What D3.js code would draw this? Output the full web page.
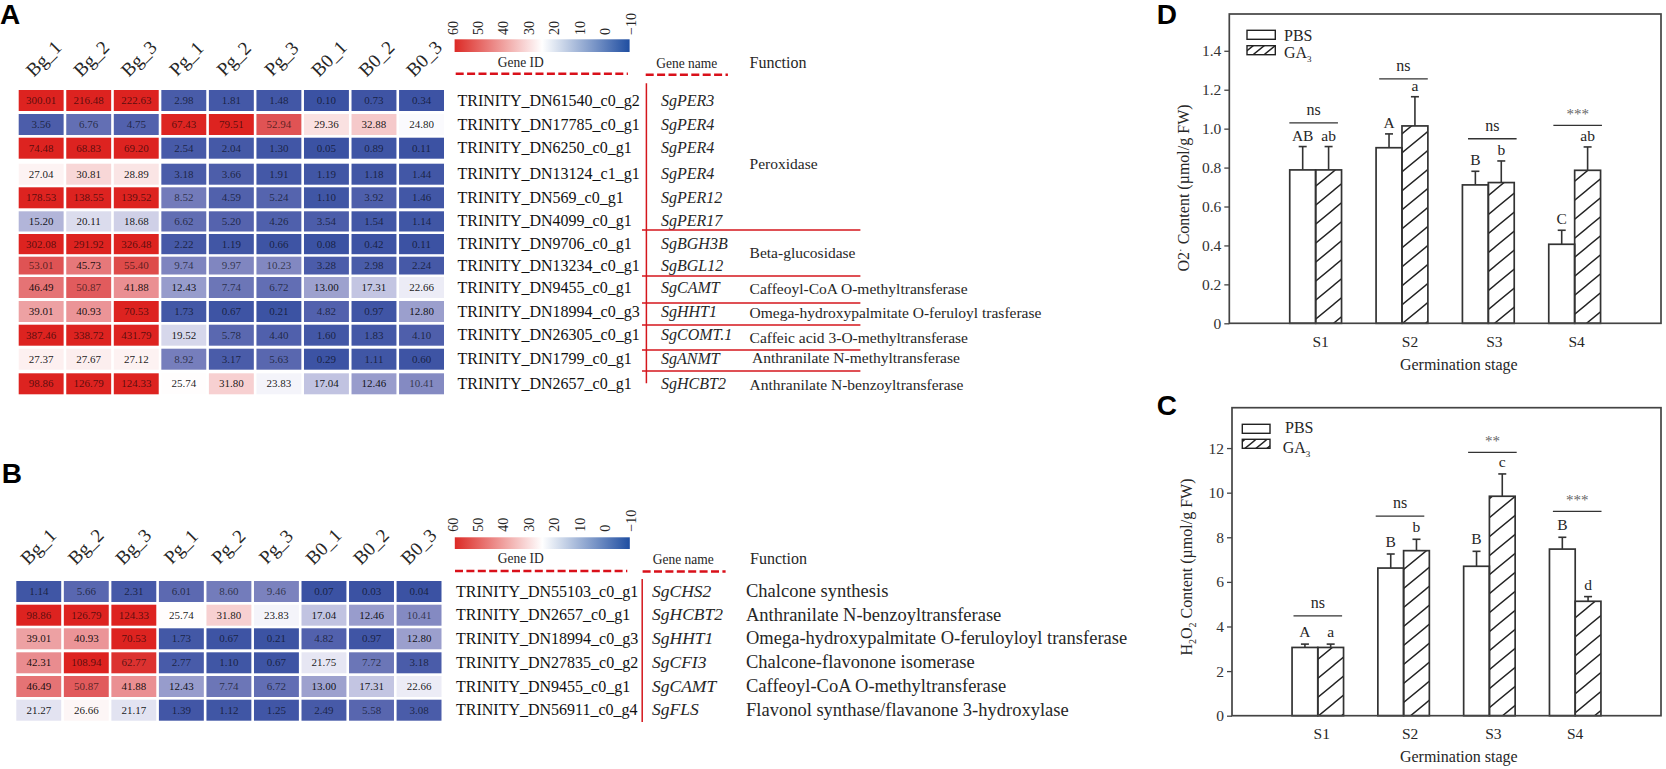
<!DOCTYPE html>
<html>
<head>
<meta charset="utf-8">
<script src="https://cdn.jsdelivr.net/npm/d3@7"></script>
<style>
	html, body { margin: 0; padding: 0; background: #fff; }
	svg { display: block; }
	text { font-family: "Liberation Serif", serif; fill: #262626; }
	.letter { font-family: "Liberation Sans", sans-serif; font-weight: bold; font-size: 28px; fill: #000; }
</style>
</head>
<body>
<div id="my_dataviz"></div>
<script>
// heatmap data
const columns = ["Bg_1", "Bg_2", "Bg_3", "Pg_1", "Pg_2", "Pg_3", "B0_1", "B0_2", "B0_3"];

const geneIdsA = ["TRINITY_DN61540_c0_g2", "TRINITY_DN17785_c0_g1", "TRINITY_DN6250_c0_g1", "TRINITY_DN13124_c1_g1", "TRINITY_DN569_c0_g1", "TRINITY_DN4099_c0_g1", "TRINITY_DN9706_c0_g1", "TRINITY_DN13234_c0_g1", "TRINITY_DN9455_c0_g1", "TRINITY_DN18994_c0_g3", "TRINITY_DN26305_c0_g1", "TRINITY_DN1799_c0_g1", "TRINITY_DN2657_c0_g1"];
const geneNamesA = ["SgPER3", "SgPER4", "SgPER4", "SgPER4", "SgPER12", "SgPER17", "SgBGH3B", "SgBGL12", "SgCAMT", "SgHHT1", "SgCOMT.1", "SgANMT", "SgHCBT2"];
const functionsA = ["Peroxidase", "Beta-glucosidase", "Caffeoyl-CoA O-methyltransferase", "Omega-hydroxypalmitate O-feruloyl trasferase", "Caffeic acid 3-O-methyltransferase", "Anthranilate N-methyltransferase", "Anthranilate N-benzoyltransferase"];
const valuesA = [
	[300.01, 216.48, 222.63, 2.98, 1.81, 1.48, 0.10, 0.73, 0.34],
	[3.56, 6.76, 4.75, 67.43, 79.51, 52.94, 29.36, 32.88, 24.80],
	[74.48, 68.83, 69.20, 2.54, 2.04, 1.30, 0.05, 0.89, 0.11],
	[27.04, 30.81, 28.89, 3.18, 3.66, 1.91, 1.19, 1.18, 1.44],
	[178.53, 138.55, 139.52, 8.52, 4.59, 5.24, 1.10, 3.92, 1.46],
	[15.20, 20.11, 18.68, 6.62, 5.20, 4.26, 3.54, 1.54, 1.14],
	[302.08, 291.92, 326.48, 2.22, 1.19, 0.66, 0.08, 0.42, 0.11],
	[53.01, 45.73, 55.40, 9.74, 9.97, 10.23, 3.28, 2.98, 2.24],
	[46.49, 50.87, 41.88, 12.43, 7.74, 6.72, 13.00, 17.31, 22.66],
	[39.01, 40.93, 70.53, 1.73, 0.67, 0.21, 4.82, 0.97, 12.80],
	[387.46, 338.72, 431.79, 19.52, 5.78, 4.40, 1.60, 1.83, 4.10],
	[27.37, 27.67, 27.12, 8.92, 3.17, 5.63, 0.29, 1.11, 0.60],
	[98.86, 126.79, 124.33, 25.74, 31.80, 23.83, 17.04, 12.46, 10.41]
];

const geneIdsB = ["TRINITY_DN55103_c0_g1", "TRINITY_DN2657_c0_g1", "TRINITY_DN18994_c0_g3", "TRINITY_DN27835_c0_g2", "TRINITY_DN9455_c0_g1", "TRINITY_DN56911_c0_g4"];
const geneNamesB = ["SgCHS2", "SgHCBT2", "SgHHT1", "SgCFI3", "SgCAMT", "SgFLS"];
const functionsB = ["Chalcone synthesis", "Anthranilate N-benzoyltransferase", "Omega-hydroxypalmitate O-feruloyloyl transferase", "Chalcone-flavonone isomerase", "Caffeoyl-CoA O-methyltransferase", "Flavonol synthase/flavanone 3-hydroxylase"];
const valuesB = [
	[1.14, 5.66, 2.31, 6.01, 8.60, 9.46, 0.07, 0.03, 0.04],
	[98.86, 126.79, 124.33, 25.74, 31.80, 23.83, 17.04, 12.46, 10.41],
	[39.01, 40.93, 70.53, 1.73, 0.67, 0.21, 4.82, 0.97, 12.80],
	[42.31, 108.94, 62.77, 2.77, 1.10, 0.67, 21.75, 7.72, 3.18],
	[46.49, 50.87, 41.88, 12.43, 7.74, 6.72, 13.00, 17.31, 22.66],
	[21.27, 26.66, 21.17, 1.39, 1.12, 1.25, 2.49, 5.58, 3.08]
];

const legendTicks = [60, 50, 40, 30, 20, 10, 0, -10];

// bar data
const stages = ["S1", "S2", "S3", "S4"];

const pbsD = [0.788, 0.902, 0.711, 0.406];
const gaD = [0.788, 1.014, 0.723, 0.786];
const pbsErrD = [0.12, 0.071, 0.07, 0.072];
const gaErrD = [0.12, 0.15, 0.111, 0.12];
const pbsLettersD = ["AB", "A", "B", "C"];
const gaLettersD = ["ab", "a", "b", "ab"];
const sigD = ["ns", "ns", "ns", "***"];
const sigLevelD = [1.03, 1.256, 0.948, 1.017];
const ticksD = [0, 0.2, 0.4, 0.6, 0.8, 1.0, 1.2, 1.4];

const pbsC = [3.06, 6.62, 6.70, 7.47];
const gaC = [3.06, 7.40, 9.84, 5.13];
const pbsErrC = [0.15, 0.63, 0.67, 0.53];
const gaErrC = [0.15, 0.51, 1.0, 0.21];
const pbsLettersC = ["A", "B", "B", "B"];
const gaLettersC = ["a", "b", "c", "d"];
const sigC = ["ns", "ns", "**", "***"];
const sigLevelC = [4.48, 8.95, 11.81, 9.16];
const ticksC = [0, 2, 4, 6, 8, 10, 12];

const svg = d3.select("#my_dataviz").append("svg")
	.attr("width", 1666)
	.attr("height", 769);

const defs = svg.append("defs");

// heat colours, saturate at both ends like the original
const heat = d3.scaleLinear()
	.domain([0, 5, 10, 15, 20, 25.5, 30, 40, 50, 60, 68])
	.range(["#3b52a3", "#5362ad", "#8086c0", "#b0b3d8", "#dadbed", "#ffffff", "#f9dcdc", "#ec9a9d", "#e15e60", "#dc3a38", "#dd2320"])
	.clamp(true);

const legendColor = d3.scaleLinear()
	.domain([60, 25, -10])
	.range(["#dc2a26", "#ffffff", "#1f4ea1"]);

function addHatch(id, w, h) {
	const p = defs.append("pattern")
		.attr("id", id)
		.attr("patternUnits", "userSpaceOnUse")
		.attr("width", w)
		.attr("height", h);
	p.append("path")
		.attr("d", `M0,${h}L${w},0M${-w},${h}L${w},${-h}M0,${2 * h}L${2 * w},0`)
		.attr("stroke", "#222")
		.attr("stroke-width", 1.4);
}
addHatch("hatch", 23, 19);
addHatch("hatchLegend", 11, 9);

function drawHeatmap(cfg) {
	const g = svg.append("g");

	const x = d3.scaleBand()
		.domain(columns)
		.range(cfg.xRange)
		.paddingInner(0.055);

	const y = d3.scaleLinear()
		.domain(d3.range(cfg.rowTops.length))
		.range(cfg.rowTops);

	const rowH = i => i < cfg.rowTops.length - 1
		? Math.min(cfg.cellH, cfg.rowTops[i + 1] - cfg.rowTops[i] - 2.5)
		: cfg.cellH;
	const rowMid = i => y(i) + rowH(i) / 2;

	// column labels
	g.selectAll(".col").data(columns).join("text")
		.attr("text-anchor", "middle")
		.attr("dominant-baseline", "middle")
		.attr("font-size", 19)
		.attr("transform", d => `translate(${x(d) + x.bandwidth() / 2 + cfg.colLabelDx},${cfg.colLabelY}) rotate(-45)`)
		.text(d => d);

	// cells
	const rows = g.selectAll(".row").data(cfg.values).join("g");
	rows.selectAll("rect").data((d, i) => d.map((v, j) => ({v: v, i: i, j: j}))).join("rect")
		.attr("x", d => x(columns[d.j]))
		.attr("y", d => y(d.i))
		.attr("width", x.bandwidth())
		.attr("height", d => rowH(d.i))
		.attr("fill", d => heat(d.v));
	rows.selectAll("text").data((d, i) => d.map((v, j) => ({v: v, i: i, j: j}))).join("text")
		.attr("x", d => x(columns[d.j]) + x.bandwidth() / 2)
		.attr("y", d => rowMid(d.i) + 3.6)
		.attr("text-anchor", "middle")
		.attr("font-size", 11)
		.style("fill", "#000")
		.attr("fill-opacity", d => d3.lab(heat(d.v)).l < 62 ? 0.62 : 0.9)
		.text(d => d.v.toFixed(2));

	// colour legend
	const gradId = "grad" + cfg.name;
	const grad = defs.append("linearGradient").attr("id", gradId);
	d3.range(0, 1.01, 0.1).forEach(t => {
		grad.append("stop")
			.attr("offset", t)
			.attr("stop-color", legendColor(60 - 70 * t));
	});
	g.append("rect")
		.attr("x", cfg.barX[0])
		.attr("y", cfg.barY[0])
		.attr("width", cfg.barX[1] - cfg.barX[0])
		.attr("height", cfg.barY[1] - cfg.barY[0])
		.attr("fill", `url(#${gradId})`);

	const legendX = d3.scaleLinear().domain([60, -10]).range(cfg.tickX);
	g.selectAll(".tick").data(legendTicks).join("text")
		.attr("font-size", 14)
		.attr("transform", d => `translate(${legendX(d) + 4.5},${cfg.tickLabelY}) rotate(-90)`)
		.text(d => d < 0 ? "\u2212" + Math.abs(d) : d);

	// headers, the two small ones are squeezed sideways in the original
	g.append("text")
		.attr("transform", `translate(${cfg.geneIdHead[0]},${cfg.geneIdHead[1]}) scale(0.87,1)`)
		.attr("text-anchor", "middle").attr("font-size", 15.5).text("Gene ID");
	g.append("text")
		.attr("transform", `translate(${cfg.geneNameHead[0]},${cfg.geneNameHead[1]}) scale(0.87,1)`)
		.attr("text-anchor", "middle").attr("font-size", 15.5).text("Gene name");
	g.append("text").attr("x", cfg.funcHead[0]).attr("y", cfg.funcHead[1])
		.attr("font-size", 16).text("Function");

	cfg.dashes.forEach(d => {
		g.append("line")
			.attr("x1", d[0]).attr("x2", d[1])
			.attr("y1", d[2]).attr("y2", d[2])
			.attr("stroke", "#d9101a")
			.attr("stroke-width", 2.6)
			.attr("stroke-dasharray", "8,3.4");
	});

	// gene ids and names
	g.selectAll(".gid").data(cfg.geneIds).join("text")
		.attr("x", cfg.geneIdX)
		.attr("y", (d, i) => rowMid(i) + 5)
		.attr("font-size", 16)
		.style("fill", "#111")
		.text(d => d);
	g.selectAll(".gname").data(cfg.geneNames).join("text")
		.attr("x", cfg.geneNameX)
		.attr("y", (d, i) => rowMid(i) + 5)
		.attr("font-size", cfg.geneNameSize)
		.attr("font-style", "italic")
		.text(d => d);

	// functions
	g.selectAll(".func").data(cfg.functions).join("text")
		.attr("x", (d, i) => cfg.funcX[i] || cfg.funcX[0])
		.attr("y", (d, i) => cfg.funcY[i])
		.attr("font-size", cfg.funcSize)
		.text(d => d);

	// red separators
	g.append("line")
		.attr("x1", cfg.vline[0]).attr("x2", cfg.vline[0])
		.attr("y1", cfg.vline[1]).attr("y2", cfg.vline[2])
		.attr("stroke", "#d4161c").attr("stroke-width", 1.5);
	g.selectAll(".sep").data(cfg.seps).join("line")
		.attr("x1", cfg.sepX[0]).attr("x2", cfg.sepX[1])
		.attr("y1", d => d).attr("y2", d => d)
		.attr("stroke", "#d4161c").attr("stroke-width", 1.5);
}

function drawBars(cfg) {
	const g = svg.append("g");
	const [left, right, top, bottom] = cfg.frame;

	const x = d3.scalePoint().domain(stages).range([left, right]).padding(1);
	const barW = x.step() * 0.3;
	const y = d3.scaleLinear().domain([0, cfg.yMax]).range([bottom, top]);

	// bars, error bars and letters per series
	const series = [
		{values: cfg.pbs, err: cfg.pbsErr, letters: cfg.pbsLetters, dx: -barW, fill: "#fff"},
		{values: cfg.ga, err: cfg.gaErr, letters: cfg.gaLetters, dx: 0, fill: "url(#hatch)"}
	];
	series.forEach(s => {
		const cx = (d, i) => x(stages[i]) + s.dx + barW / 2;

		g.selectAll(null).data(s.values).join("line")
			.attr("x1", cx).attr("x2", cx)
			.attr("y1", d => y(d))
			.attr("y2", (d, i) => y(d + s.err[i]))
			.attr("stroke", "#333").attr("stroke-width", 1.6);
		g.selectAll(null).data(s.values).join("line")
			.attr("x1", (d, i) => cx(d, i) - 4).attr("x2", (d, i) => cx(d, i) + 4)
			.attr("y1", (d, i) => y(d + s.err[i]))
			.attr("y2", (d, i) => y(d + s.err[i]))
			.attr("stroke", "#333").attr("stroke-width", 1.6);

		g.selectAll(null).data(s.values).join("rect")
			.attr("x", (d, i) => x(stages[i]) + s.dx)
			.attr("y", d => y(d))
			.attr("width", barW)
			.attr("height", d => y(0) - y(d))
			.attr("fill", s.fill)
			.attr("stroke", "#333")
			.attr("stroke-width", 1.7);

		g.selectAll(null).data(s.letters).join("text")
			.attr("x", (d, i) => cx(d, i))
			.attr("y", (d, i) => y(s.values[i] + s.err[i]) - cfg.letterGap)
			.attr("text-anchor", "middle")
			.attr("font-size", 15.5)
			.text(d => d);
	});

	// significance bars
	g.selectAll(null).data(cfg.sig).join("line")
		.attr("x1", (d, i) => x(stages[i]) + cfg.sigDx[i] - 24.3)
		.attr("x2", (d, i) => x(stages[i]) + cfg.sigDx[i] + 24.3)
		.attr("y1", (d, i) => y(cfg.sigLevel[i]))
		.attr("y2", (d, i) => y(cfg.sigLevel[i]))
		.attr("stroke", "#333").attr("stroke-width", 1.3);
	g.selectAll(null).data(cfg.sig).join("text")
		.attr("x", (d, i) => x(stages[i]) + cfg.sigDx[i])
		.attr("y", (d, i) => y(cfg.sigLevel[i]) - (d === "ns" ? 7.7 : 6.5))
		.attr("text-anchor", "middle")
		.attr("font-size", d => d === "ns" ? 16 : 15)
		.style("fill", d => d === "ns" ? "#262626" : "#666")
		.text(d => d);

	// frame and axes
	g.append("rect")
		.attr("x", left).attr("y", top)
		.attr("width", right - left).attr("height", bottom - top)
		.attr("fill", "none")
		.attr("stroke", "#444").attr("stroke-width", 1.7);

	const yAxis = g.append("g")
		.attr("transform", `translate(${left},0)`)
		.call(d3.axisLeft(y).tickValues(cfg.ticks).tickSize(5).tickPadding(3).tickFormat(cfg.tickFormat));
	yAxis.select(".domain").remove();
	yAxis.selectAll("line").attr("stroke", "#444").attr("stroke-width", 1.3);
	yAxis.selectAll("text").attr("font-size", 15.5).attr("font-family", "Liberation Serif").style("fill", "#333");

	g.selectAll(null).data(stages).join("text")
		.attr("x", (d, i) => x(d) + cfg.stageDx[i])
		.attr("y", cfg.stageY)
		.attr("text-anchor", "middle")
		.attr("font-size", 15.5)
		.text(d => d);

	g.append("text")
		.attr("x", cfg.xTitle[0]).attr("y", cfg.xTitle[1])
		.attr("text-anchor", "middle")
		.attr("font-size", 16)
		.text("Germination stage");

	// y title, pieces because of the sub and superscripts
	const yt = g.append("text")
		.attr("transform", `translate(${cfg.yTitle[0]},${cfg.yTitle[1]}) rotate(-90)`)
		.attr("text-anchor", "middle")
		.attr("font-size", 16);
	cfg.yTitleParts.forEach(p => {
		yt.append("tspan")
			.attr("font-size", p.size || 16)
			.attr("dy", p.dy || 0)
			.text(p.t);
	});

	// legend
	const sw = cfg.legend;
	[["#fff", sw.y1], ["url(#hatchLegend)", sw.y2]].forEach(d => {
		g.append("rect")
			.attr("x", sw.x[0]).attr("y", d[1])
			.attr("width", sw.x[1] - sw.x[0]).attr("height", sw.h)
			.attr("fill", d[0])
			.attr("stroke", "#222").attr("stroke-width", 1.4);
	});
	g.append("text").attr("x", sw.pbs[0]).attr("y", sw.pbs[1]).attr("font-size", 16).text("PBS");
	const ga = g.append("text").attr("x", sw.ga[0]).attr("y", sw.ga[1]).attr("font-size", 16);
	ga.append("tspan").text("GA");
	ga.append("tspan").attr("font-size", 9).attr("dy", 4).text("3");
}

drawHeatmap({
	name: "A",
	values: valuesA,
	xRange: [18.7, 444],
	rowTops: [90, 114, 137.7, 163.7, 187.3, 211.3, 234, 256.7, 277, 301, 324.7, 348.7, 373.3],
	cellH: 21,
	colLabelDx: 4,
	colLabelY: 60,
	barX: [454.6, 629.6],
	barY: [39.3, 52],
	tickX: [453, 631.4],
	tickLabelY: 35,
	geneIdHead: [520.7, 66.5],
	geneNameHead: [686.8, 68],
	funcHead: [749.6, 68],
	dashes: [[455.7, 627.9, 73.7], [645.7, 727.9, 74.7]],
	geneIds: geneIdsA,
	geneNames: geneNamesA,
	geneIdX: 457.5,
	geneNameX: 661,
	geneNameSize: 16,
	functions: functionsA,
	funcX: [749.6, 749.6, 749.6, 749.6, 749.6, 752, 749.6],
	funcY: [169, 257.5, 294, 318, 343, 363, 390],
	funcSize: 15.5,
	vline: [646.4, 83.3, 383.3],
	seps: [230, 276, 303, 325, 350, 371],
	sepX: [642, 860.4]
});

drawHeatmap({
	name: "B",
	values: valuesB,
	xRange: [16.3, 441.5],
	rowTops: [581, 604.7, 628.3, 652.3, 676, 699.7],
	cellH: 21,
	colLabelDx: 1,
	colLabelY: 548,
	barX: [454.8, 629.8],
	barY: [537.3, 549],
	tickX: [453, 631.4],
	tickLabelY: 531.7,
	geneIdHead: [520.7, 563],
	geneNameHead: [683.3, 564],
	funcHead: [750, 564],
	dashes: [[455, 627.3, 571], [642.6, 725.6, 571.5]],
	geneIds: geneIdsB,
	geneNames: geneNamesB,
	geneIdX: 456,
	geneNameX: 652,
	geneNameSize: 17.5,
	functions: functionsB,
	funcX: [746],
	funcY: [597, 620.5, 644, 668, 691.5, 715.5],
	funcSize: 18.5,
	vline: [642.2, 579, 722],
	seps: [],
	sepX: [0, 0]
});

drawBars({
	frame: [1229.3, 1661, 14, 323.3],
	yMax: 1.589,
	pbs: pbsD, ga: gaD, pbsErr: pbsErrD, gaErr: gaErrD,
	pbsLetters: pbsLettersD, gaLetters: gaLettersD,
	letterGap: 6,
	sig: sigD, sigLevel: sigLevelD, sigDx: [-2, 1.5, 4, 3],
	ticks: ticksD,
	tickFormat: d => d === 0 ? "0" : d3.format(".1f")(d),
	stageDx: [5, 8, 6, 2],
	stageY: 347,
	xTitle: [1458.8, 370],
	yTitle: [1189, 188],
	yTitleParts: [{t: "O2"}, {t: "\u00b7", size: 11, dy: -5}, {t: " Content (\u00b5mol/g FW)", dy: 5}],
	legend: {x: [1247, 1275.3], y1: 30.3, y2: 45.7, h: 9, pbs: [1284, 40.7], ga: [1284, 57.7]}
});

drawBars({
	frame: [1232, 1661, 407.7, 715.7],
	yMax: 13.81,
	pbs: pbsC, ga: gaC, pbsErr: pbsErrC, gaErr: gaErrC,
	pbsLetters: pbsLettersC, gaLetters: gaLettersC,
	letterGap: 7,
	sig: sigC, sigLevel: sigLevelC, sigDx: [0, -3.6, 3, 2],
	ticks: ticksC,
	tickFormat: d => d,
	stageDx: [4, 6.5, 4, 0],
	stageY: 739,
	xTitle: [1458.8, 761.7],
	yTitle: [1191.7, 567],
	yTitleParts: [{t: "H"}, {t: "2", size: 10, dy: 4}, {t: "O", dy: -4}, {t: "2", size: 10, dy: 4}, {t: " Content (\u00b5mol/g FW)", dy: -4}],
	legend: {x: [1242.3, 1270], y1: 424.3, y2: 439.3, h: 9, pbs: [1285, 433.3], ga: [1282.7, 453.3]}
});

// panel letters
[["A", 0, 24], ["B", 1.7, 483], ["D", 1156.7, 24], ["C", 1156.7, 415]].forEach(d => {
	svg.append("text").attr("class", "letter").attr("x", d[1]).attr("y", d[2]).text(d[0]);
});
</script>
</body>
</html>
